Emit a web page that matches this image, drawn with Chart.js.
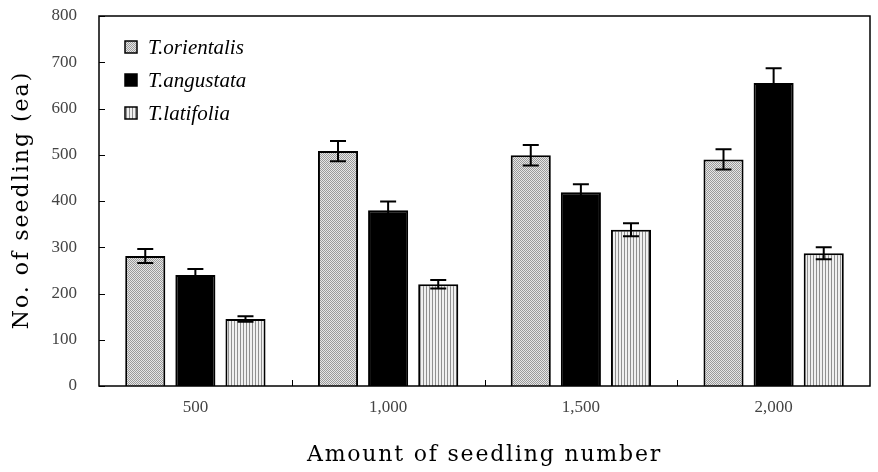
<!DOCTYPE html>
<html>
<head>
<meta charset="utf-8">
<script src="https://cdn.jsdelivr.net/npm/chart.js@4.4.0/dist/chart.umd.min.js"></script>
<style>
  html, body { margin: 0; padding: 0; background: #fff; }
  #wrap { width: 878px; height: 472px; }
</style>
</head>
<body>
<div id="wrap"><canvas id="grafico" width="878" height="472"></canvas></div>
<script>
// datos
const categorias = ['500', '1,000', '1,500', '2,000'];
const especies = ['T.orientalis', 'T.angustata', 'T.latifolia'];
const orientalis = [281, 508, 499, 490];
const angustata = [240, 380, 419, 655];
const latifolia = [145, 220, 338, 287];
const errOrientalis = [15, 22, 22, 22];
const errAngustata = [13, 19, 17, 32];
const errLatifolia = [6, 9, 14, 13];
const ticksY = [0, 100, 200, 300, 400, 500, 600, 700, 800];

const SERIF = '"Liberation Serif", "DejaVu Serif", serif';
const SERIF_ANCHA = '"DejaVu Serif", "Liberation Serif", serif';

// ------- patrones de relleno -------
function patronPuntos() {
  const c = document.createElement('canvas');
  c.width = 2; c.height = 2;
  const g = c.getContext('2d');
  g.fillStyle = '#e6e6e6'; g.fillRect(0, 0, 2, 2);
  g.fillStyle = '#9a9a9a'; g.fillRect(0, 0, 1, 1); g.fillRect(1, 1, 1, 1);
  return g.createPattern(c, 'repeat');
}
function patronRayas() {
  const c = document.createElement('canvas');
  c.width = 3; c.height = 3;
  const g = c.getContext('2d');
  g.fillStyle = '#f0f0f0'; g.fillRect(0, 0, 3, 3);
  g.fillStyle = '#909090'; g.fillRect(0, 0, 1, 3);
  return g.createPattern(c, 'repeat');
}
const ctx = document.getElementById('grafico').getContext('2d');
const rellenos = [patronPuntos(), '#000000', patronRayas()];
const errores = [errOrientalis, errAngustata, errLatifolia];

// ------- barras de error -------
const errorBars = {
  id: 'errorBars',
  afterDatasetsDraw(chart) {
    const c = chart.ctx;
    const y = chart.scales.y;
    c.save();
    c.strokeStyle = '#000';
    c.lineWidth = 2;
    chart.data.datasets.forEach((ds, i) => {
      const meta = chart.getDatasetMeta(i);
      meta.data.forEach((bar, j) => {
        const v = ds.data[j];
        const e = errores[i][j];
        const top = y.getPixelForValue(v + e);
        const bot = y.getPixelForValue(v - e);
        const x = bar.x;
        c.beginPath();
        c.moveTo(x, top); c.lineTo(x, bot);
        c.moveTo(x - 8, top); c.lineTo(x + 8, top);
        c.moveTo(x - 8, bot); c.lineTo(x + 8, bot);
        c.stroke();
      });
    });
    c.restore();
  }
};

// ------- marco, marcas hacia adentro, leyenda y titulos -------
const extras = {
  id: 'extras',
  afterDraw(chart) {
    const c = chart.ctx;
    const a = chart.chartArea;
    const y = chart.scales.y;
    const x = chart.scales.x;
    c.save();
    c.strokeStyle = '#000';
    c.lineWidth = 1.5;
    c.strokeRect(a.left, a.top, a.right - a.left, a.bottom - a.top);
    c.lineWidth = 1;
    c.beginPath();
    ticksY.forEach(t => {
      const py = Math.round(y.getPixelForValue(t)) + 0.5;
      c.moveTo(a.left, py); c.lineTo(a.left + 6, py);
    });
    for (let i = 1; i < categorias.length; i++) {
      const px = Math.round((x.getPixelForTick(i - 1) + x.getPixelForTick(i)) / 2) + 0.5;
      c.moveTo(px, a.bottom); c.lineTo(px, a.bottom - 6);
    }
    c.stroke();

    // leyenda
    c.font = 'italic 21px ' + SERIF;
    c.textBaseline = 'middle';
    especies.forEach((nombre, i) => {
      const ly = 47 + i * 33;
      c.fillStyle = rellenos[i];
      c.fillRect(125, ly - 6, 12, 12);
      c.lineWidth = 1.5;
      c.strokeStyle = '#000';
      c.strokeRect(125, ly - 6, 12, 12);
      c.fillStyle = '#000';
      c.fillText(nombre, 148, ly + 1);
    });

    // titulos de ejes
    c.fillStyle = '#000';
    c.textAlign = 'center';
    c.textBaseline = 'middle';
    c.font = '22px ' + SERIF_ANCHA;
    c.letterSpacing = '1.8px';
    c.fillText('Amount of seedling number', (a.left + a.right) / 2, 455);
    c.translate(22, 200);
    c.rotate(-Math.PI / 2);
    c.letterSpacing = '2px';
    c.fillText('No. of seedling (ea)', 0, 0);
    c.restore();
  }
};

new Chart(ctx, {
  type: 'bar',
  data: {
    labels: categorias,
    datasets: [orientalis, angustata, latifolia].map((d, i) => ({
      label: especies[i],
      data: d,
      backgroundColor: rellenos[i],
      borderColor: '#000',
      borderWidth: 2,
      borderSkipped: 'bottom',
      categoryPercentage: 0.78,
      barPercentage: 0.8
    }))
  },
  options: {
    responsive: false,
    animation: false,
    devicePixelRatio: 1,
    layout: { padding: { top: 16, right: 8, left: 0, bottom: 0 } },
    plugins: { legend: { display: false }, tooltip: { enabled: false } },
    scales: {
      x: {
        grid: { display: false, drawTicks: false },
        border: { display: false },
        ticks: { color: '#444', font: { family: SERIF, size: 17 }, padding: 11 },
        afterFit: s => { s.height = 86; s.paddingLeft = 0; s.paddingRight = 0; }
      },
      y: {
        min: 0, max: 800,
        grid: { display: false, drawTicks: false },
        border: { display: false },
        ticks: { stepSize: 100, color: '#444', font: { family: SERIF, size: 17 }, padding: 22 },
        afterFit: s => { s.width = 99; s.paddingTop = 0; s.paddingBottom = 0; }
      }
    }
  },
  plugins: [errorBars, extras]
});
</script>
</body>
</html>
